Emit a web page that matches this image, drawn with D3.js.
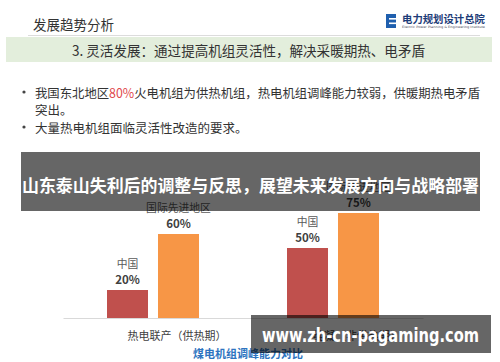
<!DOCTYPE html>
<html><head><meta charset="utf-8">
<script src="https://cdn.jsdelivr.net/npm/d3@7"></script>
<style>
html,body{margin:0;padding:0;background:#fff;}
svg{display:block;}
</style>
</head><body>
<script>
// ---- data ----
const categories = ["热电联产（供热期）", "纯凝（非供热期）"];
const seriesNames = ["中国", "国际先进地区"];
const chinaValues = [20, 50];
const advancedValues = [60, 75];
const seriesColors = ["#c0504d", "#f79646"];

const headerTitle = "发展趋势分析";
const sectionTitle = "3. 灵活发展：通过提高机组灵活性，解决采暖期热、电矛盾";
const bullet1a = "我国东北地区", bullet1b = "80%", bullet1c = "火电机组为供热机组，热电机组调峰能力较弱，供暖期热电矛盾";
const bullet1d = "突出。";
const bullet2 = "大量热电机组面临灵活性改造的要求。";
const chartTitle = "煤电机组调峰能力对比";
const overlayTitle = "山东泰山失利后的调整与反思，展望未来发展方向与战略部署";
const watermark = "www.zh-cn-pagaming.com";
const logoName = "电力规划设计总院";
const logoSub = "Electric Power Planning & Engineering Institute";

const CJK = "'Noto Sans CJK SC','Noto Sans',sans-serif";
const W = 500, H = 362;
const svg = d3.select("body").append("svg").attr("width", W).attr("height", H);

// header
svg.append("text").attr("x", 33).attr("y", 23.5).attr("dominant-baseline", "central")
  .attr("font-family", CJK).attr("font-size", 13.5).attr("fill", "#333").text(headerTitle);
svg.append("line").attr("x1", 28).attr("x2", 480).attr("y1", 35.5).attr("y2", 35.5)
  .attr("stroke", "#dcdcdc").attr("stroke-width", 1);
// logo
const logo = svg.append("g");
logo.append("rect").attr("x", 386).attr("y", 14).attr("width", 10).attr("height", 14).attr("fill", "#1f5fae");
logo.append("rect").attr("x", 389).attr("y", 18).attr("width", 7).attr("height", 1.6).attr("fill", "#fff");
logo.append("rect").attr("x", 389).attr("y", 22.5).attr("width", 7).attr("height", 1.6).attr("fill", "#fff");
logo.append("text").attr("x", 402).attr("y", 18.5).attr("dominant-baseline", "central")
  .attr("font-family", CJK).attr("font-weight", "bold").attr("font-size", 10).attr("fill", "#1d3c78")
  .attr("textLength", 83).attr("lengthAdjust", "spacingAndGlyphs").text(logoName);
logo.append("text").attr("x", 402).attr("y", 27).attr("dominant-baseline", "central")
  .attr("font-family", "'DejaVu Sans',sans-serif").attr("font-size", 3).attr("fill", "#445")
  .attr("textLength", 83).attr("lengthAdjust", "spacingAndGlyphs").text(logoSub);

// green band
svg.append("rect").attr("x", 6).attr("y", 37).attr("width", 486).attr("height", 25).attr("fill", "#e3eedc");
svg.append("text").attr("x", 72).attr("y", 49.5).attr("dominant-baseline", "central")
  .attr("font-family", CJK).attr("font-size", 14).attr("fill", "#333")
  .attr("textLength", 353).attr("lengthAdjust", "spacingAndGlyphs").text(sectionTitle);

// bullets
[92, 127].forEach(cy => svg.append("circle").attr("cx", 24).attr("cy", cy).attr("r", 1.6).attr("fill", "#444"));
const b1 = svg.append("text").attr("x", 35).attr("y", 92).attr("dominant-baseline", "central")
  .attr("font-family", CJK).attr("font-size", 12.5).attr("fill", "#333")
  .attr("textLength", 445).attr("lengthAdjust", "spacingAndGlyphs");
b1.append("tspan").text(bullet1a);
b1.append("tspan").attr("fill", "#e0474c").text(bullet1b);
b1.append("tspan").text(bullet1c);
svg.append("text").attr("x", 35).attr("y", 109).attr("dominant-baseline", "central")
  .attr("font-family", CJK).attr("font-size", 12.5).attr("fill", "#333").text(bullet1d);
svg.append("text").attr("x", 35).attr("y", 127).attr("dominant-baseline", "central")
  .attr("font-family", CJK).attr("font-size", 12.5).attr("fill", "#333").text(bullet2);

// chart
const x0 = d3.scaleBand().domain(categories).range([63, 423]).padding(0);
const x1 = d3.scaleBand().domain(seriesNames).range([-46, 46]).paddingInner(0.196).paddingOuter(0);
const y = d3.scaleLinear().domain([0, 100]).range([318, 178]);

const rows = categories.map((c, i) => ({cat: c, vals: [chinaValues[i], advancedValues[i]]}));
const groups = svg.append("g").selectAll("g").data(rows).join("g")
  .attr("transform", d => `translate(${x0(d.cat) + x0.bandwidth() / 2},0)`);
groups.selectAll("rect").data(d => d.vals.map((v, j) => ({v, s: seriesNames[j], j})))
  .join("rect")
  .attr("x", d => x1(d.s)).attr("width", x1.bandwidth())
  .attr("y", d => y(d.v)).attr("height", d => y(0) - y(d.v))
  .attr("fill", d => seriesColors[d.j]);
groups.selectAll("text.val").data(d => d.vals.map((v, j) => ({v, s: seriesNames[j], j})))
  .join("text").attr("class", "val")
  .attr("x", d => x1(d.s) + x1.bandwidth() / 2).attr("y", d => y(d.v) - 11.5)
  .attr("text-anchor", "middle").attr("dominant-baseline", "central")
  .attr("font-family", CJK).attr("font-weight", "bold").attr("font-size", 11.5).attr("fill", "#404040")
  .text(d => d.v + "%");
groups.selectAll("text.ser").data(d => d.vals.map((v, j) => ({v, s: seriesNames[j], j})))
  .join("text").attr("class", "ser")
  .attr("x", d => x1(d.s) + x1.bandwidth() / 2).attr("y", d => y(d.v) - 27)
  .attr("text-anchor", "middle").attr("dominant-baseline", "central")
  .attr("font-family", CJK).attr("font-size", 10.8).attr("fill", "#595959")
  .text(d => d.s);

const axis = svg.append("g").attr("transform", `translate(0,${y(0)})`)
  .call(d3.axisBottom(x0).tickSize(0).tickSizeOuter(0).tickPadding(14));
axis.select(".domain").attr("stroke", "#d9d9d9");
axis.selectAll(".tick text").attr("dx", 24).attr("font-family", CJK).attr("font-size", 11)
  .attr("fill", "#404040");

svg.append("text").attr("x", 248).attr("y", 353).attr("text-anchor", "middle").attr("dominant-baseline", "central")
  .attr("font-family", CJK).attr("font-weight", "bold").attr("font-size", 11).attr("fill", "#2e74c0")
  .text(chartTitle);

// overlays
svg.append("rect").attr("x", 21).attr("y", 152).attr("width", 459).attr("height", 59)
  .attr("fill", "#000").attr("fill-opacity", 0.6);
svg.append("text").attr("x", 22).attr("y", 184).attr("dominant-baseline", "central")
  .attr("font-family", CJK).attr("font-weight", "bold").attr("font-size", 17).attr("fill", "#fff")
  .attr("textLength", 457).attr("lengthAdjust", "spacingAndGlyphs").text(overlayTitle);
svg.append("rect").attr("x", 251).attr("y", 315).attr("width", 240).attr("height", 38)
  .attr("fill", "#000").attr("fill-opacity", 0.6);
svg.append("text").attr("x", 262).attr("y", 342)
  .attr("font-family", "'DejaVu Sans',Verdana,sans-serif").attr("font-weight", "bold").attr("font-size", 19)
  .attr("fill", "#fff").attr("textLength", 217).attr("lengthAdjust", "spacingAndGlyphs").text(watermark);
</script>
</body></html>
